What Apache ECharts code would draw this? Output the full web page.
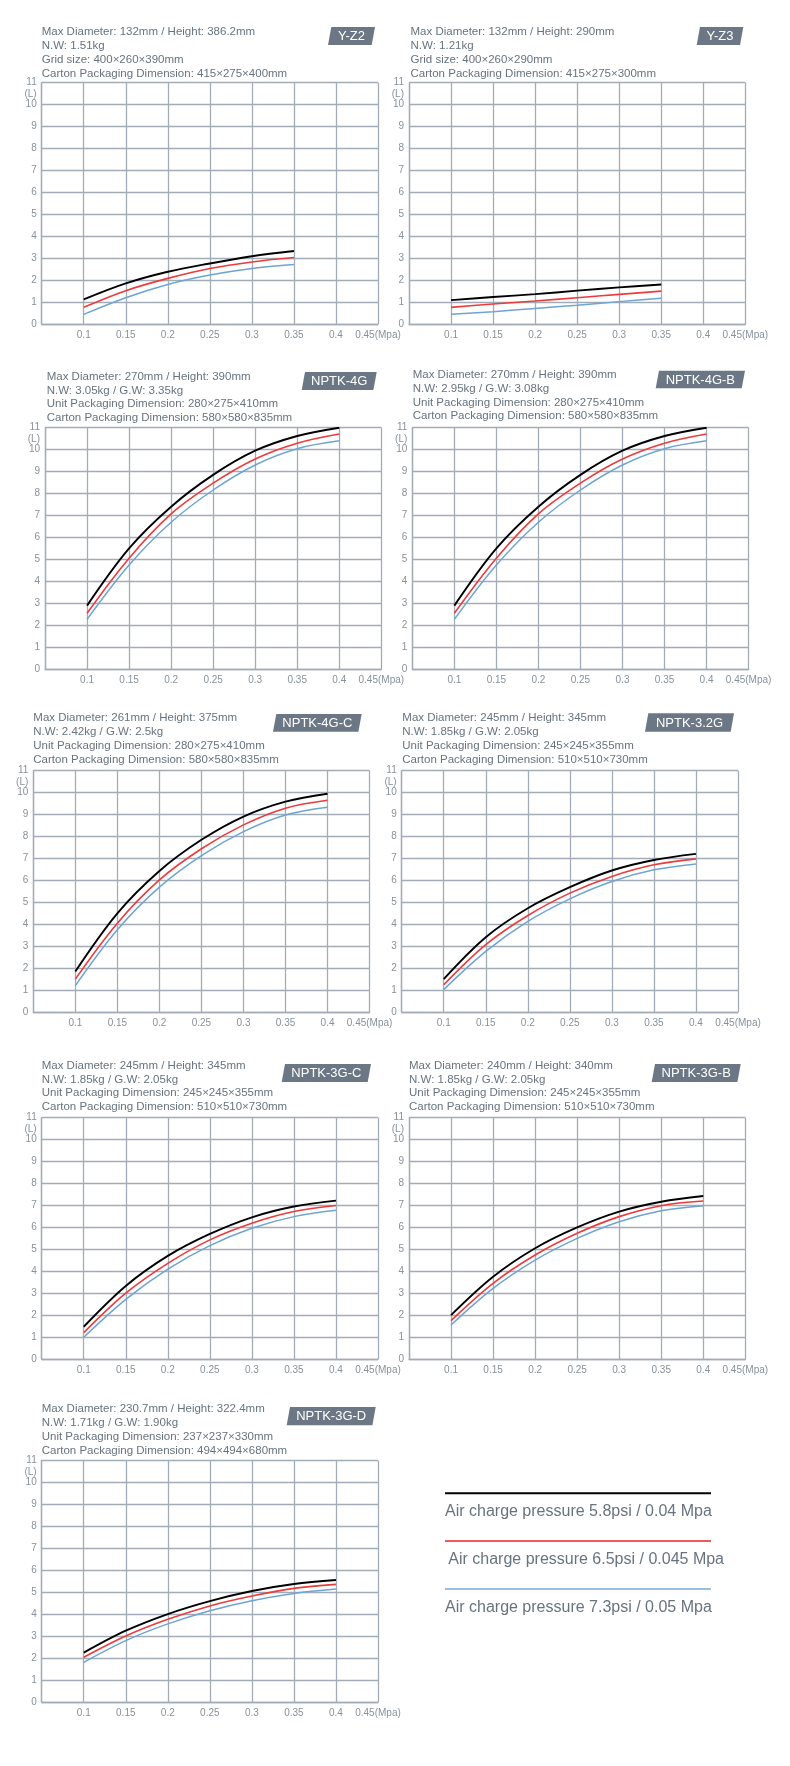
<!DOCTYPE html>
<html>
<head>
<meta charset="utf-8">
<script src="https://cdn.jsdelivr.net/npm/echarts@6/dist/echarts.min.js"></script>
<style>
html,body{margin:0;padding:0;background:#fff;}
#chart{width:790px;height:1766px;}
</style>
</head>
<body>
<div id="chart"></div>
<script>
// ---------- DATA ----------
const PRESSURE_SHORT = [0.1, 0.15, 0.2, 0.25, 0.3, 0.35];
const PRESSURE_LONG = [0.1, 0.15, 0.2, 0.25, 0.3, 0.35, 0.4];
const X_TICK_LABELS = ['0.1', '0.15', '0.2', '0.25', '0.3', '0.35', '0.4', '0.45(Mpa)'];
const Y_UNIT = '(L)';
const LEGEND_LABELS = [
  'Air charge pressure 5.8psi / 0.04 Mpa',
  'Air charge pressure 6.5psi / 0.045 Mpa',
  'Air charge pressure 7.3psi / 0.05 Mpa'
];

const YZ2_BLACK = [1.12, 1.85, 2.38, 2.76, 3.09, 3.33];
const YZ2_RED   = [0.76, 1.52, 2.08, 2.53, 2.83, 3.03];
const YZ2_BLUE  = [0.44, 1.20, 1.80, 2.23, 2.53, 2.71];

const YZ3_BLACK = [1.09, 1.23, 1.36, 1.52, 1.67, 1.80];
const YZ3_RED   = [0.76, 0.91, 1.05, 1.20, 1.35, 1.50];
const YZ3_BLUE  = [0.44, 0.56, 0.71, 0.86, 1.02, 1.17];

const N4G_BLACK = [2.89, 5.50, 7.40, 8.85, 9.95, 10.62, 11.00];
const N4G_RED   = [2.54, 5.05, 7.07, 8.47, 9.57, 10.29, 10.71];
const N4G_BLUE  = [2.26, 4.74, 6.69, 8.16, 9.30, 10.04, 10.40];

const N4GB_BLACK = [2.89, 5.50, 7.40, 8.85, 9.95, 10.62, 11.00];
const N4GB_RED   = [2.54, 5.05, 7.07, 8.47, 9.57, 10.29, 10.71];
const N4GB_BLUE  = [2.26, 4.74, 6.69, 8.16, 9.30, 10.04, 10.40];

const N4GC_BLACK = [1.85, 4.50, 6.43, 7.85, 8.91, 9.59, 9.95];
const N4GC_RED   = [1.50, 4.05, 6.02, 7.44, 8.53, 9.29, 9.65];
const N4GC_BLUE  = [1.20, 3.75, 5.69, 7.13, 8.22, 8.98, 9.33];

const N32G_BLACK = [1.50, 3.41, 4.73, 5.69, 6.45, 6.93, 7.21];
const N32G_RED   = [1.24, 3.07, 4.40, 5.42, 6.18, 6.71, 6.98];
const N32G_BLUE  = [1.02, 2.76, 4.13, 5.16, 5.95, 6.48, 6.75];

const N3GC_BLACK = [1.47, 3.33, 4.70, 5.70, 6.46, 6.95, 7.22];
const N3GC_RED   = [1.20, 3.00, 4.36, 5.43, 6.19, 6.72, 7.00];
const N3GC_BLUE  = [0.99, 2.72, 4.10, 5.17, 5.96, 6.49, 6.78];

const N3GB_BLACK = [2.00, 3.75, 5.05, 6.00, 6.72, 7.17, 7.43];
const N3GB_RED   = [1.75, 3.45, 4.74, 5.73, 6.49, 6.99, 7.20];
const N3GB_BLUE  = [1.55, 3.22, 4.51, 5.50, 6.26, 6.76, 6.99];

const N3GD_BLACK = [2.25, 3.25, 4.01, 4.60, 5.06, 5.38, 5.56];
const N3GD_RED   = [2.04, 3.01, 3.77, 4.38, 4.83, 5.18, 5.36];
const N3GD_BLUE  = [1.81, 2.80, 3.56, 4.16, 4.62, 4.95, 5.15];

const YZ2_INFO = ['Max Diameter: 132mm / Height: 386.2mm', 'N.W: 1.51kg', 'Grid size: 400×260×390mm', 'Carton Packaging Dimension: 415×275×400mm'];
const YZ3_INFO = ['Max Diameter: 132mm / Height: 290mm', 'N.W: 1.21kg', 'Grid size: 400×260×290mm', 'Carton Packaging Dimension: 415×275×300mm'];
const N4G_INFO = ['Max Diameter: 270mm / Height: 390mm', 'N.W: 3.05kg / G.W: 3.35kg', 'Unit Packaging Dimension: 280×275×410mm', 'Carton Packaging Dimension: 580×580×835mm'];
const N4GB_INFO = ['Max Diameter: 270mm / Height: 390mm', 'N.W: 2.95kg / G.W: 3.08kg', 'Unit Packaging Dimension: 280×275×410mm', 'Carton Packaging Dimension: 580×580×835mm'];
const N4GC_INFO = ['Max Diameter: 261mm / Height: 375mm', 'N.W: 2.42kg / G.W: 2.5kg', 'Unit Packaging Dimension: 280×275×410mm', 'Carton Packaging Dimension: 580×580×835mm'];
const N32G_INFO = ['Max Diameter: 245mm / Height: 345mm', 'N.W: 1.85kg / G.W: 2.05kg', 'Unit Packaging Dimension: 245×245×355mm', 'Carton Packaging Dimension: 510×510×730mm'];
const N3GC_INFO = ['Max Diameter: 245mm / Height: 345mm', 'N.W: 1.85kg / G.W: 2.05kg', 'Unit Packaging Dimension: 245×245×355mm', 'Carton Packaging Dimension: 510×510×730mm'];
const N3GB_INFO = ['Max Diameter: 240mm / Height: 340mm', 'N.W: 1.85kg / G.W: 2.05kg', 'Unit Packaging Dimension: 245×245×355mm', 'Carton Packaging Dimension: 510×510×730mm'];
const N3GD_INFO = ['Max Diameter: 230.7mm / Height: 322.4mm', 'N.W: 1.71kg / G.W: 1.90kg', 'Unit Packaging Dimension: 237×237×330mm', 'Carton Packaging Dimension: 494×494×680mm'];

// ---------- LAYOUT / STYLE ----------
const FONT = '"Liberation Sans", Arial, Helvetica, sans-serif';
const GRID_C = '#a2acb7';
const AXIS_TXT = '#87919b';
const HEAD_TXT = '#67737f';
const BADGE_C = '#6b7784';
const LINE_COLORS = ['#000000', '#ee3a3a', '#6ea4d4'];
const LINE_WIDTHS = [1.9, 1.6, 1.5];
const GW = 336.3, GH = 241.3;

const panels = [
  {name:'Y-Z2', gx:41.7, gy:82.7, tx:41.7, ty:32.3, b:[328,27,375,45], xs:PRESSURE_SHORT, d:[YZ2_BLACK,YZ2_RED,YZ2_BLUE], info:YZ2_INFO},
  {name:'Y-Z3', gx:409, gy:82.7, tx:410.5, ty:32.3, b:[696.7,27,743.3,45], xs:PRESSURE_SHORT, d:[YZ3_BLACK,YZ3_RED,YZ3_BLUE], info:YZ3_INFO},
  {name:'NPTK-4G', gx:45, gy:427.7, tx:46.7, ty:376.7, b:[301.7,372,376.7,390], xs:PRESSURE_LONG, d:[N4G_BLACK,N4G_RED,N4G_BLUE], info:N4G_INFO},
  {name:'NPTK-4G-B', gx:412.3, gy:427.7, tx:412.7, ty:375, b:[655.7,370.7,745,388.3], xs:PRESSURE_LONG, d:[N4GB_BLACK,N4GB_RED,N4GB_BLUE], info:N4GB_INFO},
  {name:'NPTK-4G-C', gx:33.3, gy:770.7, tx:33.3, ty:718.3, b:[273,714,361.7,731.7], xs:PRESSURE_LONG, d:[N4GC_BLACK,N4GC_RED,N4GC_BLUE], info:N4GC_INFO},
  {name:'NPTK-3.2G', gx:401.7, gy:770.7, tx:402.3, ty:718.3, b:[645,713.3,734,731.7], xs:PRESSURE_LONG, d:[N32G_BLACK,N32G_RED,N32G_BLUE], info:N32G_INFO},
  {name:'NPTK-3G-C', gx:41.7, gy:1117.7, tx:41.7, ty:1065.7, b:[281.7,1064,371,1082], xs:PRESSURE_LONG, d:[N3GC_BLACK,N3GC_RED,N3GC_BLUE], info:N3GC_INFO},
  {name:'NPTK-3G-B', gx:409, gy:1117.7, tx:409, ty:1065.7, b:[651.7,1064,740.7,1082], xs:PRESSURE_LONG, d:[N3GB_BLACK,N3GB_RED,N3GB_BLUE], info:N3GB_INFO},
  {name:'NPTK-3G-D', gx:41.7, gy:1460.7, tx:41.7, ty:1409.3, b:[286.7,1407,375.7,1425.3], xs:PRESSURE_LONG, d:[N3GD_BLACK,N3GD_RED,N3GD_BLUE], info:N3GD_INFO}
];

const grids = [], xAxes = [], yAxes = [], series = [], graphics = [];

function xLabel(v) {
  const k = Math.round(v / 0.05) - 2;
  return (k >= 0 && k < X_TICK_LABELS.length) ? X_TICK_LABELS[k] : '';
}

panels.forEach((p, i) => {
  grids.push({left: p.gx, top: p.gy, width: GW, height: GH, containLabel: false});
  xAxes.push({
    type: 'value', gridIndex: i, min: 0.05, max: 0.45, interval: 0.05,
    axisLine: {show: true, lineStyle: {color: GRID_C, width: 1.3}},
    axisTick: {show: false},
    splitLine: {show: true, lineStyle: {color: GRID_C, width: 1.3}},
    axisLabel: {formatter: xLabel, color: AXIS_TXT, fontSize: 10, fontFamily: FONT, margin: 6, hideOverlap: false, showMinLabel: true, showMaxLabel: true}
  });
  yAxes.push({
    type: 'value', gridIndex: i, min: 0, max: 11, interval: 1,
    axisLine: {show: true, lineStyle: {color: GRID_C, width: 1.3}},
    axisTick: {show: false},
    splitLine: {show: true, lineStyle: {color: GRID_C, width: 1.3}},
    axisLabel: {color: AXIS_TXT, fontSize: 10, fontFamily: FONT, margin: 5, hideOverlap: false, showMinLabel: true, showMaxLabel: true}
  });
  p.d.forEach((arr, s) => {
    series.push({
      type: 'line', xAxisIndex: i, yAxisIndex: i,
      data: p.xs.map((x, j) => [x, arr[j]]),
      smooth: 0.35, symbol: 'none', z: 5 - s,
      lineStyle: {color: LINE_COLORS[s], width: LINE_WIDTHS[s]}
    });
  });
  // unit label "(L)" under the top tick label
  graphics.push({type: 'text', style: {x: p.gx - 5, y: p.gy + 11.3, text: Y_UNIT, fill: AXIS_TXT, font: '10px ' + FONT, textAlign: 'right', verticalAlign: 'middle'}});
  p.info.forEach((t, k) => {
    graphics.push({type: 'text', style: {x: p.tx, y: p.ty + k * 13.7, text: t, fill: HEAD_TXT, font: '11.5px ' + FONT, textAlign: 'left', verticalAlign: 'middle'}});
  });
  const [bx0, by0, bx1, by1] = p.b;
  graphics.push({type: 'polygon', shape: {points: [[bx0 + 3.3, by0], [bx1, by0], [bx1 - 3.3, by1], [bx0, by1]]}, style: {fill: BADGE_C}});
  graphics.push({type: 'text', style: {x: (bx0 + bx1) / 2, y: (by0 + by1) / 2 + 0.5, text: p.name, fill: '#ffffff', font: '13px ' + FONT, textAlign: 'center', verticalAlign: 'middle'}});
});

// legend block
const LEG_X0 = 445, LEG_X1 = 711;
const LEG_LINE_Y = [1493.3, 1541, 1589];
const LEG_TEXT_Y = [1511.7, 1559.3, 1607.7];
const LEG_TEXT_X = [445, 448.3, 445];
const LEG_COLORS = ['#000000', '#f05a5a', '#9cbedc'];
LEGEND_LABELS.forEach((t, k) => {
  graphics.push({type: 'line', shape: {x1: LEG_X0, y1: LEG_LINE_Y[k], x2: LEG_X1, y2: LEG_LINE_Y[k]}, style: {stroke: LEG_COLORS[k], lineWidth: 2}});
  graphics.push({type: 'text', style: {x: LEG_TEXT_X[k], y: LEG_TEXT_Y[k], text: t, fill: HEAD_TXT, font: '16px ' + FONT, textAlign: 'left', verticalAlign: 'middle'}});
});

const chart = echarts.init(document.getElementById('chart'), null, {renderer: 'canvas'});
chart.setOption({
  animation: false,
  backgroundColor: '#ffffff',
  grid: grids,
  xAxis: xAxes,
  yAxis: yAxes,
  series: series,
  graphic: graphics
});
</script>
</body>
</html>
